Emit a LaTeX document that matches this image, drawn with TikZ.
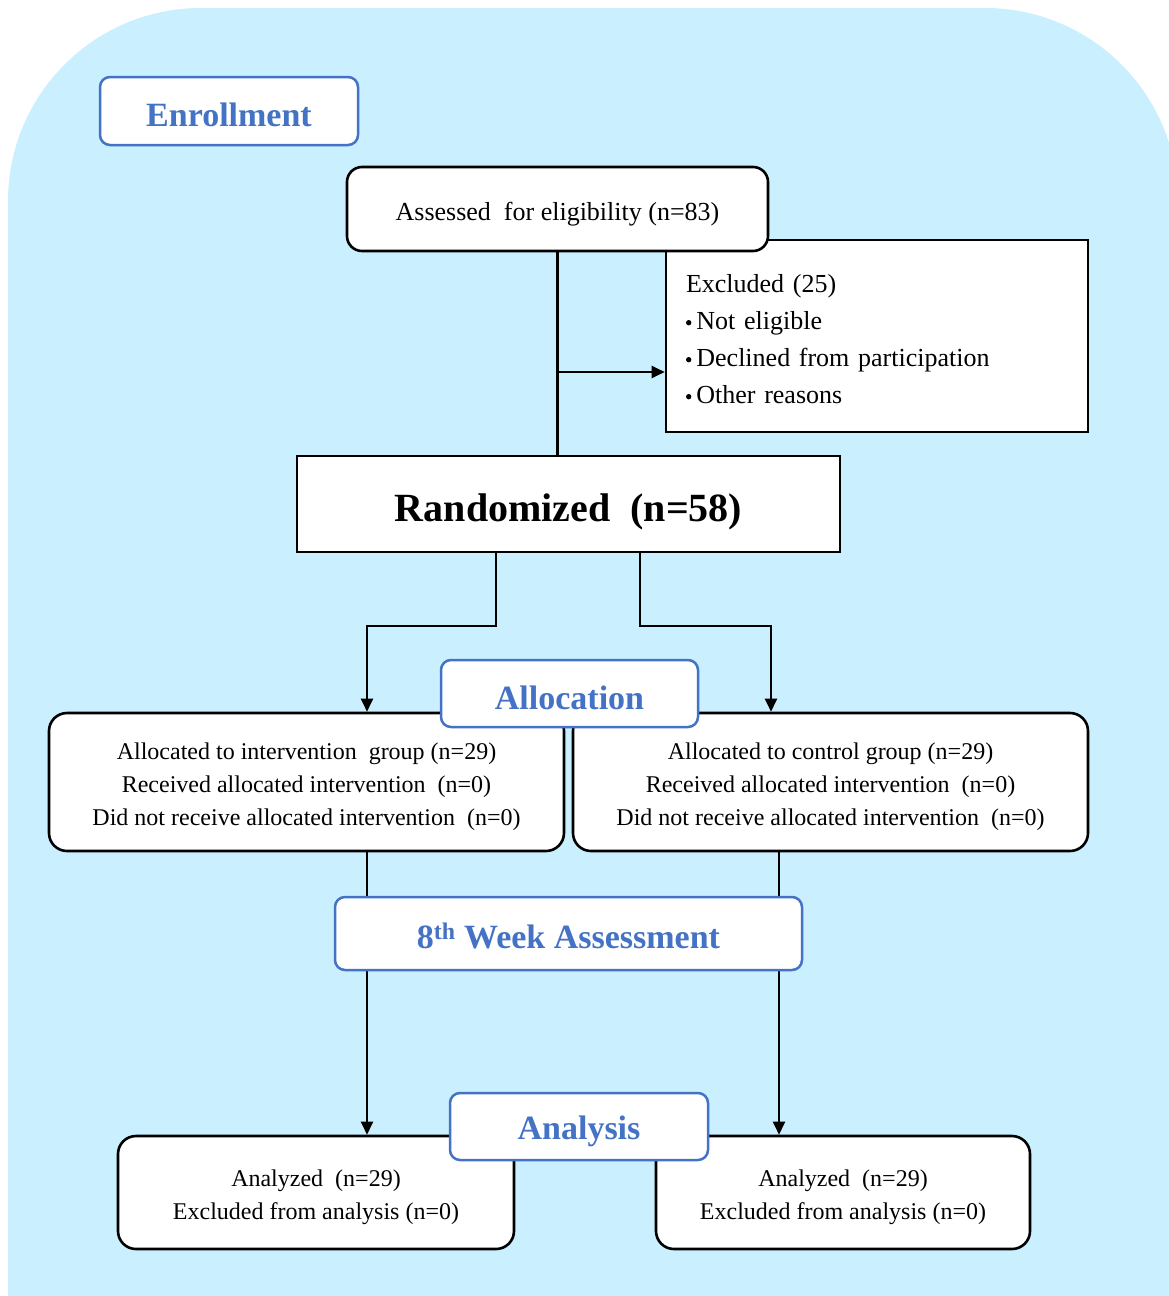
\documentclass[tikz,border=0pt]{standalone}
\usepackage{fontspec}
\setmainfont{Liberation Serif}
\usetikzlibrary{arrows.meta}
\definecolor{bgblue}{RGB}{202,239,254}
\definecolor{hdblue}{RGB}{68,114,196}
\newcommand\tdown[1]{\rule{0pt}{#1pt}}
\newcommand\sbul{\raisebox{4pt}{\tikz\fill[black] circle[radius=2.7pt];}\hspace{5pt}}
\tikzset{
  hdbox/.style={draw=hdblue, line width=2.5pt, rounded corners=10pt, fill=white,
    text=hdblue, font=\fontsize{34}{40}\selectfont\bfseries, inner sep=0pt},
  rbox/.style={draw=black, line width=2.6pt, rounded corners=18pt, fill=white,
    align=center, font=\fontsize{24}{33}\selectfont, inner sep=0pt},
  sbox/.style={draw=black, line width=2.6pt, fill=white, inner sep=0pt},
  conn/.style={draw=black, line width=2.2pt},
  arr/.style={conn, -{Triangle[length=13pt,width=12pt]}}
}
\begin{document}
\begin{tikzpicture}[x=1pt,y=-1pt]
\useasboundingbox (0,0) rectangle (1168,1296);
% background
\fill[bgblue] (8,1300) [rounded corners=193pt] -- (8,8) -- (1178,8) [sharp corners] -- (1178,1300) -- cycle;

% main boxes
\node[sbox, minimum width=422pt, minimum height=192pt, text width=382pt, inner xsep=20pt,
      align=left, font=\fontsize{26}{37}\selectfont] (excl) at (877,336)
  {\tdown{24}Excluded (25)\\ \sbul Not eligible\\ \sbul Declined from participation\\ \sbul Other reasons};
\node[rbox, rounded corners=15pt, minimum width=421pt, minimum height=84pt,
      font=\fontsize{26}{32}\selectfont] (assess) at (557.5,209)
  {\tdown{28}Assessed\ \ for eligibility (n=83)};
\node[sbox, minimum width=543pt, minimum height=96pt,
      font=\fontsize{40}{46}\selectfont\bfseries] (rand) at (568.5,504)
  {\tdown{44}Randomized\ \ (n=58)};
\node[rbox, minimum width=515pt, minimum height=138pt] (lalloc) at (306.5,782)
  {\tdown{27}Allocated to intervention\ \ group (n=29)\\ Received allocated intervention\ \ (n=0)\\ Did not receive allocated intervention\ \ (n=0)};
\node[rbox, minimum width=515pt, minimum height=138pt] (ralloc) at (830.5,782)
  {\tdown{27}Allocated to control group (n=29)\\ Received allocated intervention\ \ (n=0)\\ Did not receive allocated intervention\ \ (n=0)};
\node[rbox, minimum width=396pt, minimum height=113pt] (lan) at (316,1192.5)
  {\tdown{27}Analyzed\ \ (n=29)\\ Excluded from analysis (n=0)};
\node[rbox, minimum width=374pt, minimum height=113pt] (ran) at (843,1192.5)
  {\tdown{27}Analyzed\ \ (n=29)\\ Excluded from analysis (n=0)};

% connectors
\draw[conn] (assess.south) -- (assess.south |- rand.north);
\coordinate (j1) at (557,372);
\draw[arr] (j1) -- (j1 -| excl.west);
\draw[arr] ([xshift=-72.5pt]rand.south) -- ++(0,73) -| ([xshift=60.5pt]lalloc.north);
\draw[arr] ([xshift=71.5pt]rand.south) -- ++(0,73) -| ([xshift=-59.5pt]ralloc.north);
\coordinate (l1) at ([xshift=60.5pt]lalloc.south);
\draw[arr] (l1) -- (l1 |- lan.north);
\coordinate (r1) at ([xshift=-51.5pt]ralloc.south);
\draw[arr] (r1) -- (r1 |- ran.north);

% heading boxes
\node[hdbox, minimum width=258pt, minimum height=68pt] (enroll) at (229,111) {\tdown{32}Enrollment};
\node[hdbox, minimum width=257pt, minimum height=67pt] (allocl) at (569.5,693.5) {\tdown{32}Allocation};
\node[hdbox, minimum width=467pt, minimum height=73pt] (week) at (568.5,933.5) {\tdown{30}8\textsuperscript{th} Week Assessment};
\node[hdbox, minimum width=258pt, minimum height=67pt] (anl) at (579,1126.5) {\tdown{34}Analysis};
\end{tikzpicture}
\end{document}
